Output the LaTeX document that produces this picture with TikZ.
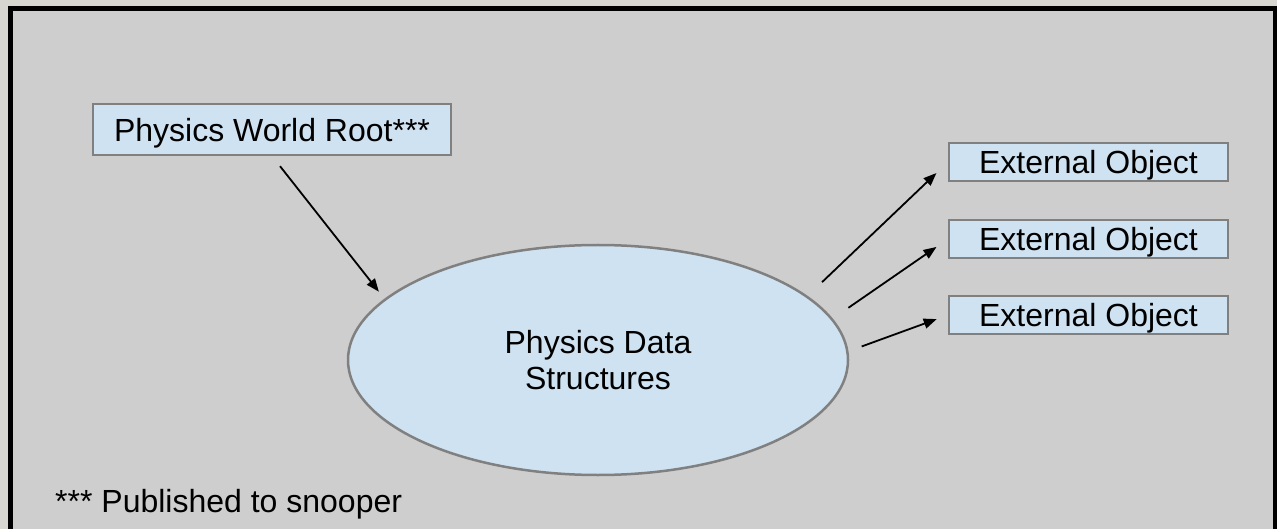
\documentclass[tikz,border=0pt]{standalone}
\usepackage{fontspec}
\setmainfont{Liberation Sans}
\usetikzlibrary{arrows.meta,shapes.geometric}
\definecolor{frameout}{HTML}{D8D6D1}
\definecolor{panel}{HTML}{CECECE}
\definecolor{boxfill}{HTML}{CFE2F1}
\definecolor{boxline}{HTML}{808080}

\begin{document}
\begin{tikzpicture}[x=1pt,y=-1pt,>={Triangle[length=13pt,width=10pt]},
  font=\fontsize{32}{36}\selectfont,
  box/.style={draw=boxline,line width=2pt,fill=boxfill,inner sep=0pt,text depth=0pt},
  extbox/.style={box,minimum width=279pt,minimum height=38pt},
  link/.style={->,line width=1.8pt}]
\useasboundingbox (0,0) rectangle (1277,529);
\clip (0,0) rectangle (1277,529);
% frame and panel
\fill[frameout] (0,0) rectangle (1277,529);
\draw[line width=5pt,fill=panel] (10.5,8.5) rectangle (1275.5,545);

\node[box,minimum width=358pt,minimum height=51pt] (root) at (272,129.5) {Physics World Root***};
\node[draw=boxline,fill=boxfill,ellipse,inner sep=0pt,minimum width=500pt,minimum height=230pt,align=center,line width=2.5pt] (data) at (598,360) {Physics Data\\Structures};
\node[extbox] (ext1) at (1088.5,162) {External Object};
\node[extbox] (ext2) at (1088.5,239) {External Object};
\node[extbox] (ext3) at (1088.5,315) {External Object};
\node[anchor=base west,inner sep=0pt] (note) at (55,512) {*** Published to snooper};

\draw[link,shorten <=13pt,shorten >=9pt] (root.south) -- (data.164);
\draw[link,shorten <=20pt,shorten >=16pt] (data.17) -- (ext1.west);
\draw[link,shorten <=19pt,shorten >=14pt] (data.10) -- (ext2.west);
\draw[link,shorten <=14pt,shorten >=12pt] (data.2) -- (ext3.west);
\end{tikzpicture}
\end{document}
